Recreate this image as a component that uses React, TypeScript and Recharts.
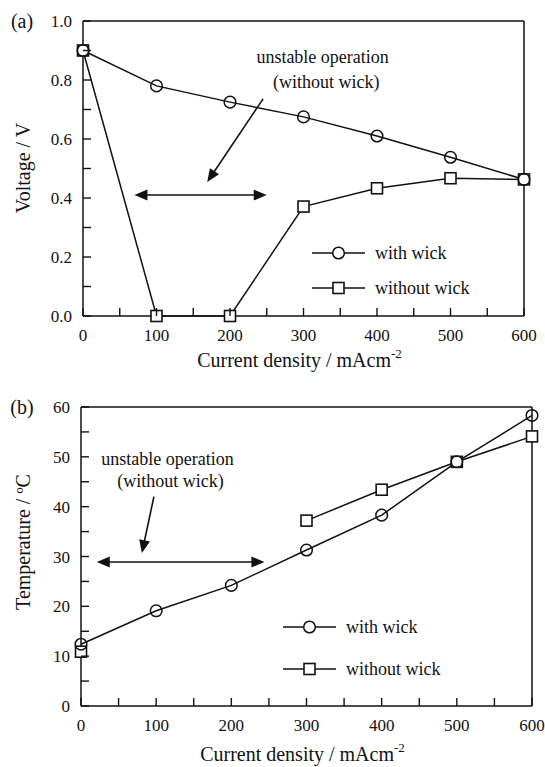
import React from 'react';
import { LineChart, Line, XAxis, YAxis, ReferenceLine, ReferenceDot, Legend, Label } from 'recharts';

// current density, mA cm^-2
const currentDensity = [0, 100, 200, 300, 400, 500, 600];
// (a) voltage, V
const voltageWithWick = [0.9, 0.78, 0.725, 0.675, 0.61, 0.538, 0.463];
const voltageWithoutWick = [0.9, 0, 0, 0.371, 0.433, 0.467, 0.463];
// (b) temperature, degC
const tempWithWick = [12.4, 19.1, 24.2, 31.3, 38.3, 49, 58.3];
const tempWithoutWick = [10.9, null, null, 37.2, 43.4, 49, 54.1];

const xTicks = [0, 50, 100, 150, 200, 250, 300, 350, 400, 450, 500, 550, 600];
const voltageTicks = [0, 0.1, 0.2, 0.3, 0.4, 0.5, 0.6, 0.7, 0.8, 0.9, 1.0];
const tempTicks = [0, 5, 10, 15, 20, 25, 30, 35, 40, 45, 50, 55, 60];

const voltageData = currentDensity.map((x, i) => ({ x, withWick: voltageWithWick[i], withoutWick: voltageWithoutWick[i] }));
const tempData = currentDensity.map((x, i) => ({ x, withWick: tempWithWick[i], withoutWick: tempWithoutWick[i] }));

const FONT = "'Liberation Serif', 'Times New Roman', Times, 'DejaVu Serif', serif";
const INK = '#111';
const txt = (size: number): React.CSSProperties => ({ fontFamily: FONT, fontSize: size, fill: INK });

const XTick = (props: any) => {
  const { x, y, payload } = props;
  const major = payload.value % 100 === 0;
  return (
    <g>
      <line x1={x} x2={x} y1={y} y2={y - 8} stroke={INK} strokeWidth={1.4} />
      {major && (
        <text x={x} y={y + 25} textAnchor="middle" style={txt(17)}>
          {payload.value}
        </text>
      )}
    </g>
  );
};

const makeYTick = (isMajor: (v: number) => boolean, fmt: (v: number) => string) => (props: any) => {
  const { x, y, payload } = props;
  return (
    <g>
      <line x1={x} x2={x + 8} y1={y} y2={y} stroke={INK} strokeWidth={1.4} />
      {isMajor(payload.value) && (
        <text x={x - 11} y={y + 6} textAnchor="end" style={txt(17)}>
          {fmt(payload.value)}
        </text>
      )}
    </g>
  );
};

const VoltTick = makeYTick((v) => Math.round(v * 10) % 2 === 0, (v) => v.toFixed(1));
const TempTick = makeYTick((v) => v % 10 === 0, (v) => String(v));

const Square = (props: any) => {
  const { cx, cy } = props;
  if (cx == null || cy == null) return <g />;
  return <rect x={cx - 5.5} y={cy - 5.5} width={11} height={11} fill="#fff" stroke={INK} strokeWidth={1.6} />;
};

const Circle = (props: any) => {
  const { cx, cy } = props;
  if (cx == null || cy == null) return <g />;
  return <circle cx={cx} cy={cy} r={5.8} fill="#fff" fillOpacity={0} stroke={INK} strokeWidth={1.5} />;
};

const arrowHead = (x: number, y: number, fx: number, fy: number) => {
  // tip at (x,y), pointing away from (fx,fy)
  const dx = x - fx;
  const dy = y - fy;
  const len = Math.sqrt(dx * dx + dy * dy) || 1;
  const ux = dx / len;
  const uy = dy / len;
  const L = 13;
  const W = 5.5;
  const bx = x - ux * L;
  const by = y - uy * L;
  return `${x},${y} ${bx - uy * W},${by + ux * W} ${bx + uy * W},${by - ux * W}`;
};

const SingleArrow = (props: any) => {
  const { x1, y1, x2, y2 } = props;
  const dx = x2 - x1;
  const dy = y2 - y1;
  const len = Math.sqrt(dx * dx + dy * dy);
  const ex = x2 - (dx / len) * 10;
  const ey = y2 - (dy / len) * 10;
  return (
    <g>
      <line x1={x1} y1={y1} x2={ex} y2={ey} stroke={INK} strokeWidth={1.6} />
      <polygon points={arrowHead(x2, y2, x1, y1)} fill={INK} />
    </g>
  );
};

const DoubleArrow = (props: any) => {
  const { x1, y1, x2, y2 } = props;
  return (
    <g>
      <line x1={x1 + 10} y1={y1} x2={x2 - 10} y2={y2} stroke={INK} strokeWidth={1.6} />
      <polygon points={arrowHead(x1, y1, x2, y2)} fill={INK} />
      <polygon points={arrowHead(x2, y2, x1, y1)} fill={INK} />
    </g>
  );
};

const noteText = (text: string) => (props: any) => (
  <text x={props.cx} y={props.cy} textAnchor="middle" dominantBaseline="middle" style={txt(18)}>
    {text}
  </text>
);

const makeLegend = (rowGap: number) => (props: any) => {
  const items = [...(props.payload || [])].sort((a: any) => (a.dataKey === 'withWick' ? -1 : 1));
  return (
    <svg width={200} height={rowGap + 24}>
      {items.map((it: any, i: number) => {
        const y = 12 + i * rowGap;
        return (
          <g key={it.dataKey}>
            <line x1={1} x2={54} y1={y} y2={y} stroke={INK} strokeWidth={1.5} />
            {it.dataKey === 'withWick' ? (
              <circle cx={27.5} cy={y} r={5.8} fill="#fff" stroke={INK} strokeWidth={1.5} />
            ) : (
              <rect x={22} y={y - 5.5} width={11} height={11} fill="#fff" stroke={INK} strokeWidth={1.6} />
            )}
            <text x={64} y={y + 6} style={txt(18)}>
              {it.value}
            </text>
          </g>
        );
      })}
    </svg>
  );
};

const XTitle = (dy: number) => (props: any) => {
  const vb = props.viewBox || {};
  return (
    <text x={vb.x + vb.width / 2 - 4} y={vb.y + dy} textAnchor="middle" style={txt(20)}>
      Current density / mAcm
      <tspan dy={-9} style={{ fontSize: 13 }}>-2</tspan>
    </text>
  );
};

const YTitle = (text: string, panel: string, cy: number) => (props: any) => {
  const vb = props.viewBox || {};
  return (
    <g>
      <text x={22} y={vb.y + 7} textAnchor="middle" style={txt(20)}>
        {panel}
      </text>
      <text
        x={25}
        y={cy}
        transform={`rotate(-90 25 ${cy})`}
        textAnchor="middle"
        dominantBaseline="middle"
        style={txt(20)}
      >
        {text}
      </text>
    </g>
  );
};

const VoltageChart = () => (
  <LineChart width={545} height={380} data={voltageData} margin={{ top: 21, right: 21, bottom: 24, left: 0 }}>
    <XAxis
      dataKey="x"
      type="number"
      domain={[0, 600]}
      ticks={xTicks}
      interval={0}
      tickSize={0}
      tickMargin={0}
      tickLine={false}
      tick={<XTick />}
      axisLine={{ stroke: INK, strokeWidth: 1.5 }}
      height={40}
    >
      <Label content={XTitle(51)} />
    </XAxis>
    <YAxis
      type="number"
      domain={[0, 1]}
      ticks={voltageTicks}
      interval={0}
      tickSize={0}
      tickMargin={0}
      tickLine={false}
      tick={<VoltTick />}
      axisLine={{ stroke: INK, strokeWidth: 1.5 }}
      width={83}
    >
      <Label content={YTitle('Voltage / V', '(a)', 168)} />
    </YAxis>
    <ReferenceLine y={1} stroke={INK} strokeWidth={1.5} />
    <ReferenceLine x={600} stroke={INK} strokeWidth={1.5} />
    <ReferenceLine segment={[{ x: 245, y: 0.736 }, { x: 169, y: 0.454 }]} shape={<SingleArrow />} />
    <ReferenceLine segment={[{ x: 70, y: 0.41 }, { x: 250, y: 0.41 }]} shape={<DoubleArrow />} />
    <ReferenceDot x={326} y={0.873} r={0} shape={noteText('unstable operation')} />
    <ReferenceDot x={331} y={0.788} r={0} shape={noteText('(without wick)')} />
    <Line
      dataKey="withoutWick"
      name="without wick"
      stroke={INK}
      strokeWidth={1.5}
      dot={<Square />}
      isAnimationActive={false}
    />
    <Line dataKey="withWick" name="with wick" stroke={INK} strokeWidth={1.5} dot={<Circle />} isAnimationActive={false} />
    <Legend
      layout="vertical"
      align="center"
      verticalAlign="middle"
      content={makeLegend(35)}
      wrapperStyle={{ left: 311, top: 241, width: 200, height: 60 }}
    />
  </LineChart>
);

const TempChart = () => (
  <LineChart width={545} height={387} data={tempData} margin={{ top: 27, right: 13, bottom: 21, left: 0 }}>
    <XAxis
      dataKey="x"
      type="number"
      domain={[0, 600]}
      ticks={xTicks}
      interval={0}
      tickSize={0}
      tickMargin={0}
      tickLine={false}
      tick={<XTick />}
      axisLine={{ stroke: INK, strokeWidth: 1.5 }}
      height={40}
    >
      <Label content={XTitle(55)} />
    </XAxis>
    <YAxis
      type="number"
      domain={[0, 60]}
      ticks={tempTicks}
      interval={0}
      tickSize={0}
      tickMargin={0}
      tickLine={false}
      tick={<TempTick />}
      axisLine={{ stroke: INK, strokeWidth: 1.5 }}
      width={81}
    >
      <Label content={YTitle('Temperature / \u00baC', '(b)', 162)} />
    </YAxis>
    <ReferenceLine y={60} stroke={INK} strokeWidth={1.5} />
    <ReferenceLine x={600} stroke={INK} strokeWidth={1.5} />
    <ReferenceLine segment={[{ x: 97, y: 42 }, { x: 81, y: 30.7 }]} shape={<SingleArrow />} />
    <ReferenceLine segment={[{ x: 21, y: 28.9 }, { x: 244, y: 28.9 }]} shape={<DoubleArrow />} />
    <ReferenceDot x={115} y={49.2} r={0} shape={noteText('unstable operation')} />
    <ReferenceDot x={119} y={44.8} r={0} shape={noteText('(without wick)')} />
    <Line
      dataKey="withoutWick"
      name="without wick"
      stroke={INK}
      strokeWidth={1.5}
      dot={<Square />}
      connectNulls={false}
      isAnimationActive={false}
    />
    <Line dataKey="withWick" name="with wick" stroke={INK} strokeWidth={1.5} dot={<Circle />} isAnimationActive={false} />
    <Legend
      layout="vertical"
      align="center"
      verticalAlign="middle"
      content={makeLegend(42)}
      wrapperStyle={{ left: 282, top: 235, width: 200, height: 70 }}
    />
  </LineChart>
);

export default function App() {
  return (
    <div style={{ position: 'absolute', left: 0, top: 0, width: 545, height: 767, background: '#fff' }}>
      <div style={{ position: 'absolute', left: 0, top: 0 }}>
        <VoltageChart />
      </div>
      <div style={{ position: 'absolute', left: 0, top: 380 }}>
        <TempChart />
      </div>
    </div>
  );
}
